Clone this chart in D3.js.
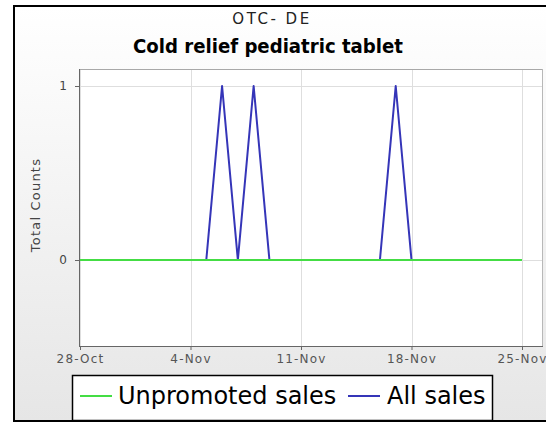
<!DOCTYPE html>
<html><head><meta charset="utf-8">
<script src="https://cdn.jsdelivr.net/npm/d3@7"></script>
<style>html,body{margin:0;padding:0;background:#fff;}svg{display:block;}</style>
</head><body>
<svg id="c" width="546" height="424"></svg>
<script>
const subtitle = "OTC- DE";
const title = "Cold relief pediatric tablet";
const yLabel = "Total Counts";
const dates = ["2012-10-28","2012-10-29","2012-10-30","2012-10-31","2012-11-01","2012-11-02","2012-11-03",
  "2012-11-04","2012-11-05","2012-11-06","2012-11-07","2012-11-08","2012-11-09","2012-11-10",
  "2012-11-11","2012-11-12","2012-11-13","2012-11-14","2012-11-15","2012-11-16","2012-11-17",
  "2012-11-18","2012-11-19","2012-11-20","2012-11-21","2012-11-22","2012-11-23","2012-11-24","2012-11-25"];
const unpromoted = [0,0,0,0,0,0,0, 0,0,0,0,0,0,0, 0,0,0,0,0,0,0, 0,0,0,0,0,0,0,0];
const allSales   = [0,0,0,0,0,0,0, 0,0,1,0,1,0,0, 0,0,0,0,0,0,1, 0,0,0,0,0,0,0,0];
const xTickDates = ["2012-10-28","2012-11-04","2012-11-11","2012-11-18","2012-11-25"];
const xTickLabels = ["28-Oct","4-Nov","11-Nov","18-Nov","25-Nov"];
const yTicks = [0, 1];
const seriesNames = ["Unpromoted sales", "All sales"];
const seriesColors = ["#44dd44", "#3535b8"];

const parse = d3.utcParse("%Y-%m-%d");
const svg = d3.select("#c");
const defs = svg.append("defs");
const grad = defs.append("linearGradient").attr("id","bg").attr("x1",0).attr("y1",0).attr("x2",0).attr("y2",1);
grad.append("stop").attr("offset","0%").attr("stop-color","#ffffff");
grad.append("stop").attr("offset","100%").attr("stop-color","#e6e6e6");

// outer frame
svg.append("rect").attr("x",14).attr("y",6).attr("width",540).attr("height",415)
  .attr("fill","url(#bg)").attr("stroke","#000").attr("stroke-width",2);

const plot = {left:79, top:69, right:543, bottom:346};
const x = d3.scaleUtc().domain([parse("2012-10-28"), parse("2012-11-25")]).range([80, 522]);
const y = d3.scaleLinear().domain([0, 1]).range([260, 86]);

// plot background
svg.append("rect").attr("x",plot.left).attr("y",plot.top)
  .attr("width",plot.right-plot.left).attr("height",plot.bottom-plot.top).attr("fill","#fff");

// gridlines
const grid = svg.append("g").attr("stroke","#dedede").attr("stroke-width",1);
xTickDates.forEach(d => {
  const px = Math.round(x(parse(d))) + 0.5;
  grid.append("line").attr("x1",px).attr("x2",px).attr("y1",plot.top).attr("y2",plot.bottom);
});
yTicks.forEach(v => {
  const py = Math.round(y(v)) + 0.5;
  grid.append("line").attr("x1",plot.left).attr("x2",plot.right).attr("y1",py).attr("y2",py);
});

// plot border top/right
svg.append("line").attr("x1",plot.left).attr("x2",plot.right).attr("y1",plot.top+0.5).attr("y2",plot.top+0.5).attr("stroke","#a8a8a8");
svg.append("line").attr("x1",plot.right-0.5).attr("x2",plot.right-0.5).attr("y1",plot.top).attr("y2",plot.bottom).attr("stroke","#b8b8b8");

// lines
const data = dates.map((d,i) => ({date: parse(d), u: unpromoted[i], a: allSales[i]}));
const lineA = d3.line().x(d => x(d.date)).y(d => y(d.a));
const lineU = d3.line().x(d => x(d.date)).y(d => y(d.u));
svg.append("path").datum(data).attr("d", lineA).attr("fill","none")
  .attr("stroke", seriesColors[1]).attr("stroke-width", 2).attr("stroke-linejoin","round");
svg.append("path").datum(data).attr("d", lineU).attr("fill","none")
  .attr("stroke", seriesColors[0]).attr("stroke-width", 2);

// axes
const xAxis = d3.axisBottom(x).tickValues(xTickDates.map(parse))
  .tickFormat((d,i) => xTickLabels[i]).tickSize(4).tickPadding(4);
const gx = svg.append("g").attr("transform",`translate(0,${plot.bottom})`).call(xAxis);
gx.select(".domain").remove();
gx.selectAll("line").attr("stroke","#666");
gx.selectAll("text").attr("font-family","DejaVu Sans").attr("font-size",12)
  .attr("letter-spacing","1.2px").attr("fill","#555");

const yAxis = d3.axisLeft(y).tickValues(yTicks).tickFormat(d3.format("d")).tickSize(4).tickPadding(8);
const gy = svg.append("g").attr("transform",`translate(${plot.left},0)`).call(yAxis);
gy.select(".domain").remove();
gy.selectAll("line").attr("stroke","#666");
gy.selectAll("text").attr("font-family","DejaVu Sans").attr("font-size",12).attr("fill","#444");

svg.append("line").attr("x1",plot.left+0.5).attr("x2",plot.left+0.5).attr("y1",plot.top).attr("y2",plot.bottom+1).attr("stroke","#666");
svg.append("line").attr("x1",plot.left).attr("x2",plot.right).attr("y1",plot.bottom+0.5).attr("y2",plot.bottom+0.5).attr("stroke","#666");

// y label
svg.append("text").attr("transform","translate(40,205) rotate(-90)").attr("text-anchor","middle")
  .attr("font-family","DejaVu Sans").attr("font-size",13).attr("letter-spacing","1.2px")
  .attr("fill","#444").text(yLabel);

// titles
svg.append("text").attr("x",272).attr("y",24).attr("text-anchor","middle")
  .attr("font-family","DejaVu Sans").attr("font-size",15).attr("letter-spacing","2.5px")
  .attr("fill","#222").text(subtitle);
svg.append("text").attr("x",268).attr("y",53).attr("text-anchor","middle")
  .attr("font-family","'DejaVu Sans Condensed', 'DejaVu Sans'").attr("font-weight","bold").attr("font-size",20)
  .attr("textLength",270).attr("lengthAdjust","spacingAndGlyphs")
  .attr("fill","#000").text(title);

// legend
const lg = svg.append("g");
lg.append("rect").attr("x",72.5).attr("y",375.5).attr("width",420).attr("height",45)
  .attr("fill","#fff").attr("stroke","#000").attr("stroke-width",1.5);
const legendItems = [{x:80, tx:118}, {x:348, tx:387}];
legendItems.forEach((it,i) => {
  lg.append("line").attr("x1",it.x).attr("x2",it.x+32).attr("y1",396).attr("y2",396)
    .attr("stroke",seriesColors[i]).attr("stroke-width",2);
  lg.append("text").attr("x",it.tx).attr("y",404).attr("font-family","DejaVu Sans")
    .attr("font-size",24).attr("fill","#000").text(seriesNames[i]);
});
</script>
</body></html>
